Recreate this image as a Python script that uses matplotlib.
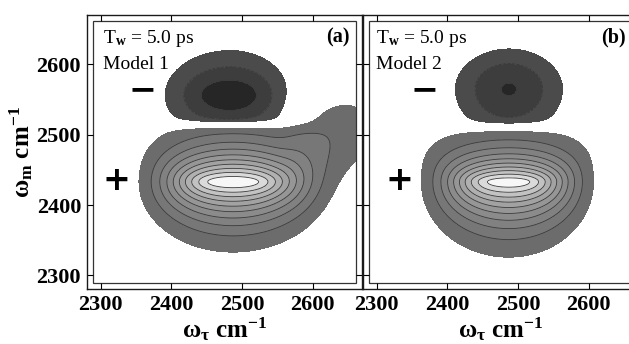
import numpy as np
import matplotlib
matplotlib.use("Agg")
import matplotlib.pyplot as plt
from matplotlib.patches import Rectangle

plt.rcParams["font.family"] = ["Liberation Serif", "DejaVu Serif"]
plt.rcParams["mathtext.fontset"] = "custom"
plt.rcParams["mathtext.rm"] = "Liberation Serif"
plt.rcParams["mathtext.it"] = "Liberation Serif:italic"
plt.rcParams["mathtext.bf"] = "Liberation Serif:bold"
plt.rcParams["mathtext.default"] = "regular"

# ── Axes / labels ────────────────────────────────────────────────────────────
AX_LIM = [2280, 2670]          # cm-1, both axes
FRAME = [2289, 2661]           # inner box the spectrum is drawn in
TICKS = [2300, 2400, 2500, 2600]
PANEL_TAGS = ["(a)", "(b)"]
MODEL_NAMES = ["Model 1", "Model 2"]
T_WAIT = "5.0"

# contour levels (normalised signal) and the grey of each band
LEVELS = [-2.0, -0.3, -0.2, -0.1, 0.1, 0.2, 0.3, 0.4, 0.5, 0.6, 0.7, 0.8, 0.9, 1.0, 3.0]
LINE_LEVELS = [-0.3, -0.2, 0.2, 0.3, 0.4, 0.5, 0.6, 0.7, 0.8, 0.9, 1.0]
BAND_GREYS = ["#262626", "#3d3d3d", "#4b4b4b", "#ffffff",
              "#6c6c6c", "#777777", "#818181", "#8b8b8b", "#969696",
              "#a2a2a2", "#b0b0b0", "#c2c2c2", "#dadada", "#f7f7f7"]

# ── Peak parameters, one entry per panel (Model 1, Model 2) ──────────────────
# widths: left, right, below, above (cm-1); powers: (w_tau, w_m)
pos_amp = [1.10, 1.08]
pos_center = [[2487, 2433], [2487, 2433]]
pos_width = [[93, 95, 51, 46], [87, 84, 55, 40]]
pos_power = [[2.45, 1.3], [2.45, 1.3]]
pos_spread = [0.25, 0.6]       # widening of the upper wings along w_tau
pos_cut = [2512, 2509]

neg_amp = [-0.39, -0.307]
neg_center = [[2483, 2556], [2487, 2565]]
neg_width = [[80, 73, 53, 53], [73, 73, 63, 55]]
neg_power = [[2.0, 1.5], [2.0, 2.0]]
neg_cut = [2516, 2513]
CUT_SOFT = 3.0

# low-level diagonal tail seen only in model 1
tail_amp = [0.15, 0.0]
tail_center = [[2630, 2500], [2630, 2500]]
tail_sigma = [[60, 45], [60, 45]]   # along / across
tail_angle = [25, 25]               # degrees

# annotation positions (data coords for the signs)
plus_pos = [[2321, 2435], [2330, 2435]]
minus_pos = [[2357, 2565], [2366, 2565]]
text_x = [0.060, 0.047]


def nested(dx, dy, widths, powers):
    """exp(-L) where the level-L contour is an ellipse with semi-axes
    w * L**(1/p) -- lets the aspect ratio change from core to wings."""
    wx = np.where(dx < 0, widths[0], widths[1])
    wy = np.where(dy < 0, widths[2], widths[3])
    lo = np.full(dx.shape, 1e-4)
    hi = np.full(dx.shape, 60.0)
    for _ in range(40):
        mid = np.sqrt(lo * hi)
        a = wx * mid ** (1 / powers[0])
        b = wy * mid ** (1 / powers[1])
        inside = (dx / a) ** 2 + (dy / b) ** 2 <= 1
        hi = np.where(inside, mid, hi)
        lo = np.where(inside, lo, mid)
    return np.exp(-np.sqrt(lo * hi))


def spectrum(i, X, Y):
    cx, cy = pos_center[i]
    dy = Y - cy
    dx = (X - cx) / (1 + pos_spread[i] * (np.clip(dy, 0, None) / 100) ** 2)
    pos = pos_amp[i] * nested(dx, dy, pos_width[i], pos_power[i])
    pos = pos / (1 + np.exp((Y - pos_cut[i]) / CUT_SOFT))

    cx, cy = neg_center[i]
    neg = neg_amp[i] * nested(X - cx, Y - cy, neg_width[i], neg_power[i])
    neg = neg / (1 + np.exp(-(Y - neg_cut[i]) / CUT_SOFT))

    tx, ty = tail_center[i]
    a = np.deg2rad(tail_angle[i])
    u = (X - tx) * np.cos(a) + (Y - ty) * np.sin(a)
    v = -(X - tx) * np.sin(a) + (Y - ty) * np.cos(a)
    tail = tail_amp[i] * np.exp(-0.5 * ((u / tail_sigma[i][0]) ** 2
                                        + (v / tail_sigma[i][1]) ** 2))
    tail = tail / (1 + np.exp(-(X - 2560) / 10))
    return pos + neg + tail


fig = plt.figure(figsize=(6.29, 3.44), dpi=100)
ax_a = fig.add_axes([0.1377, 0.1587, 0.4382, 0.7974])
ax_b = fig.add_axes([0.5765, 0.1587, 0.4382, 0.7974])

grid = np.linspace(FRAME[0], FRAME[1], 500)
X, Y = np.meshgrid(grid, grid)

for i, ax in enumerate([ax_a, ax_b]):
    Z = spectrum(i, X, Y)
    ax.contourf(X, Y, Z, levels=LEVELS, colors=BAND_GREYS)
    ax.contour(X, Y, Z, levels=LINE_LEVELS, colors="#3a3a3a", linewidths=0.6)

    ax.set_xlim(AX_LIM)
    ax.set_ylim(AX_LIM)
    ax.set_xticks(TICKS)
    ax.set_yticks(TICKS)
    ax.tick_params(direction="in", length=4, width=0.8, top=True, right=True,
                   labelsize=16, pad=4)
    for lab in ax.get_xticklabels() + ax.get_yticklabels():
        lab.set_fontweight("bold")
    for sp in ax.spines.values():
        sp.set_linewidth(1.0)
        sp.set_color("#1a1a1a")

    # inner box
    f0 = (FRAME[0] - AX_LIM[0]) / (AX_LIM[1] - AX_LIM[0])
    f1 = (FRAME[1] - AX_LIM[0]) / (AX_LIM[1] - AX_LIM[0])
    ax.add_patch(Rectangle((f0, f0), f1 - f0, f1 - f0, transform=ax.transAxes,
                           fill=False, lw=0.9, ec="#333333"))

    ax.text(text_x[i], 0.90, r"T$_\mathbf{w}$ = " + T_WAIT + " ps",
            transform=ax.transAxes, fontsize=14, va="baseline")
    ax.text(text_x[i], 0.805, MODEL_NAMES[i], transform=ax.transAxes,
            fontsize=14, va="baseline")
    ax.text(0.956, 0.90, PANEL_TAGS[i], transform=ax.transAxes, fontsize=14.5,
            fontweight="bold", ha="right", va="baseline")
    ax.text(*plus_pos[i], "$+$", fontsize=24, fontweight="bold", family="DejaVu Sans",
            ha="center", va="center")
    ax.text(*minus_pos[i], "$-$", fontsize=24, fontweight="bold", family="DejaVu Sans",
            ha="center", va="center")

    ax.set_xlabel(r"$\omega_\tau$ cm$^{-1}$", fontsize=18, fontweight="bold", labelpad=0)

ax_a.set_ylabel(r"$\omega_m$ cm$^{-1}$", fontsize=18, fontweight="bold", labelpad=1)
ax_b.tick_params(labelleft=False)

fig.savefig("out.png", dpi=100)
